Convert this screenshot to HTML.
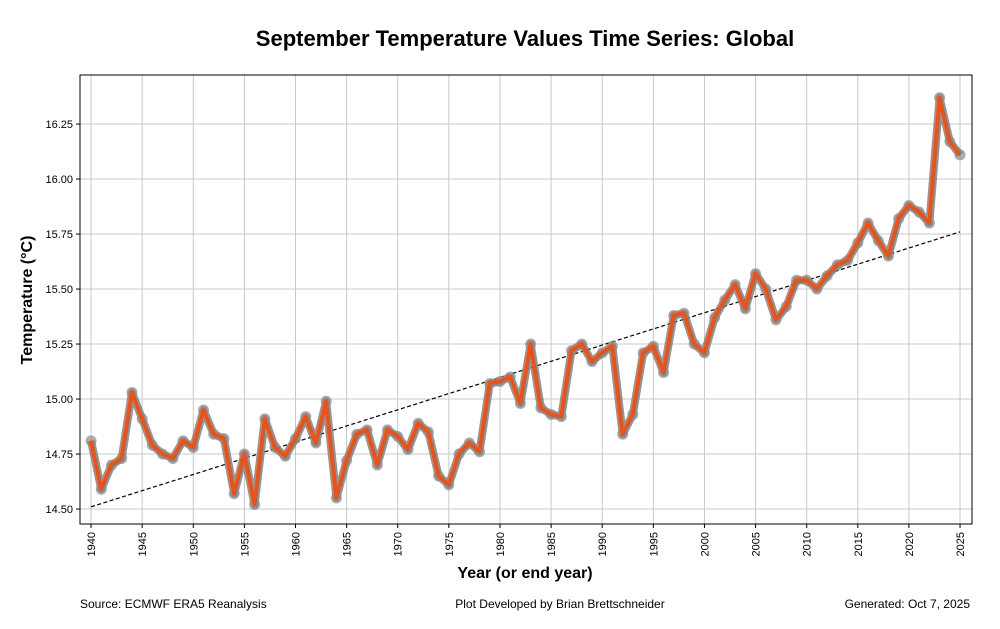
<!DOCTYPE html>
<html><head><meta charset="utf-8"><style>
body{margin:0;background:#fff;font-family:"Liberation Sans",sans-serif}
</style></head><body>
<svg id="chart" width="1000" height="624" xmlns="http://www.w3.org/2000/svg" font-family="Liberation Sans, sans-serif">
<rect width="1000" height="624" fill="#fff"/>
<text x="525" y="46" text-anchor="middle" font-size="22" font-weight="bold">September Temperature Values Time Series: Global</text>
<g id="grid"></g>
<g id="plot"></g>
<rect x="80" y="75" width="892" height="449" fill="none" stroke="#000" stroke-width="1"/>
<g id="ticks"></g>
<text x="525" y="578" text-anchor="middle" font-size="16" font-weight="bold">Year (or end year)</text>
<text transform="translate(32,300) rotate(-90)" text-anchor="middle" font-size="16" font-weight="bold">Temperature (°C)</text>
<text x="80" y="608" font-size="12">Source: ECMWF ERA5 Reanalysis</text>
<text x="560" y="608" text-anchor="middle" font-size="12">Plot Developed by Brian Brettschneider</text>
<text x="970" y="608" text-anchor="end" font-size="12">Generated: Oct 7, 2025</text>
</svg>
<script>
const years=[];for(let y=1940;y<=2025;y++)years.push(y);
const temps=[14.81,14.59,14.70,14.73,15.03,14.91,14.79,14.75,14.73,14.81,14.78,14.95,14.84,14.82,14.57,14.75,14.52,14.91,14.78,14.74,14.82,14.92,14.80,14.99,14.55,14.72,14.84,14.86,14.70,14.86,14.83,14.77,14.89,14.85,14.65,14.61,14.75,14.80,14.76,15.07,15.08,15.10,14.98,15.25,14.96,14.93,14.92,15.22,15.25,15.17,15.21,15.24,14.84,14.93,15.21,15.24,15.12,15.38,15.39,15.25,15.21,15.37,15.45,15.52,15.41,15.57,15.50,15.36,15.42,15.54,15.54,15.50,15.56,15.61,15.63,15.71,15.80,15.72,15.65,15.82,15.88,15.85,15.80,16.37,16.17,16.11];
const trendYears=[1940,2025];
const trendVals=[14.51,15.76];
const xTicks=[1940,1945,1950,1955,1960,1965,1970,1975,1980,1985,1990,1995,2000,2005,2010,2015,2020,2025];
const yTicks=[14.50,14.75,15.00,15.25,15.50,15.75,16.00,16.25];
const X0=80,X1=972,Y0=75,Y1=524,xmin=1938.92,xmax=2026.17,ymin=14.432,ymax=16.473;
const sx=v=>X0+(v-xmin)/(xmax-xmin)*(X1-X0);
const sy=v=>Y1-(v-ymin)/(ymax-ymin)*(Y1-Y0);
const NS='http://www.w3.org/2000/svg';
const mk=(t,a,p)=>{const e=document.createElementNS(NS,t);for(const k in a)e.setAttribute(k,a[k]);p.appendChild(e);return e;};
const grid=document.getElementById('grid'),plot=document.getElementById('plot'),ticks=document.getElementById('ticks');
xTicks.forEach(t=>{const x=sx(t);
 const g=mk('line',{x1:x,x2:x,y1:Y0,y2:Y1,stroke:'#c8c8c8','stroke-width':1},grid);
 
 
 mk('line',{x1:x,x2:x,y1:Y1,y2:Y1+4,stroke:'#000'},ticks);
 const l=mk('text',{transform:`translate(${x+4},${Y1+8}) rotate(-90)`,'text-anchor':'end','font-size':11},ticks);l.textContent=t;
 
 
});
yTicks.forEach(t=>{const y=sy(t);
 const g=mk('line',{x1:X0,x2:X1,y1:y,y2:y,stroke:'#c8c8c8','stroke-width':1},grid);
 
 
 mk('line',{x1:X0-4,x2:X0,y1:y,y2:y,stroke:'#000'},ticks);
 const l=mk('text',{x:X0-7,y:y+4,'text-anchor':'end','font-size':11},ticks);l.textContent=t.toFixed(2);
 
 
});
const tr=mk('line',{x1:sx(trendYears[0]),y1:sy(trendVals[0]),x2:sx(trendYears[1]),y2:sy(trendVals[1]),stroke:'#000','stroke-width':1.2,'stroke-dasharray':'4,2.5'},plot);


const pts=years.map((y,i)=>sx(y)+','+sy(temps[i])).join(' ');
const sh=mk('polyline',{points:pts,fill:'none',stroke:'#7a7a7a','stroke-width':8,'stroke-linejoin':'round','stroke-opacity':0.8},plot);


years.forEach((y,i)=>{const c=mk('circle',{cx:sx(y),cy:sy(temps[i]),r:5.5,fill:'#8a8a8a','fill-opacity':0.7},plot);
 
 });
const ln=mk('polyline',{points:pts,fill:'none',stroke:'#e8531c','stroke-width':4,'stroke-linejoin':'round'},plot);


</script>
</body></html>
